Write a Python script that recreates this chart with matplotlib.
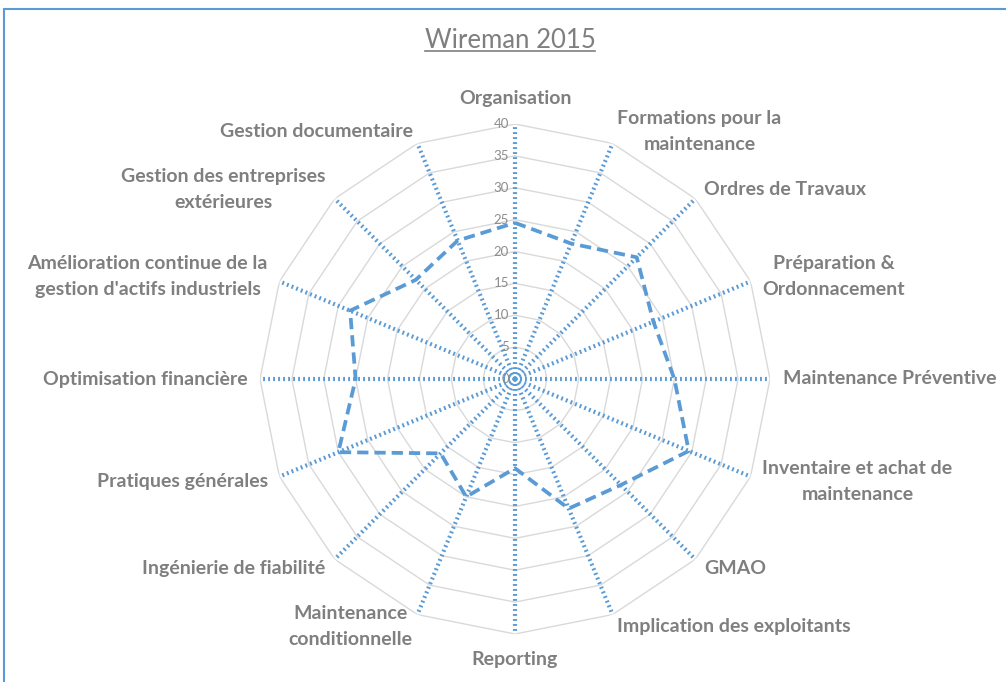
import numpy as np
import matplotlib
matplotlib.use('Agg')
import matplotlib.pyplot as plt
from matplotlib.patches import Rectangle
from matplotlib.lines import Line2D
import matplotlib.transforms as mtransforms

# Kategorien im Uhrzeigersinn ab oben
kategorien = [
    'Organisation',
    'Formations pour la\nmaintenance',
    'Ordres de Travaux',
    'Préparation &\nOrdonnacement',
    'Maintenance Préventive',
    'Inventaire et achat de\nmaintenance',
    'GMAO',
    'Implication des exploitants',
    'Reporting',
    'Maintenance\nconditionnelle',
    'Ingénierie de fiabilité',
    'Pratiques générales',
    'Optimisation financière',
    "Amélioration continue de la\ngestion d'actifs industriels",
    'Gestion des entreprises\nextérieures',
    'Gestion documentaire',
]
werte = [24.5, 23, 27, 23.5, 25, 29.5, 23.5, 22, 14, 20, 16.5, 30, 25, 28, 22, 23.5]
ringe = [5, 10, 15, 20, 25, 30, 35, 40]
tick_werte = [0, 5, 10, 15, 20, 25, 30, 35, 40]
titel = 'Wireman 2015'

blau = '#5b9bd5'
grau = '#7f7f7f'

n = len(kategorien)
winkel = np.linspace(0, 2 * np.pi, n, endpoint=False)

fig = plt.figure(figsize=(10.06, 6.82), dpi=100)
ax = fig.add_axes([260 / 1006, 48 / 682, 510 / 1006, 510 / 682], projection='polar')
ax.set_theta_zero_location('N')
ax.set_theta_direction(-1)
ax.set_ylim(0, 40)
ax.grid(False)
ax.set_xticks([])
ax.set_yticks([])
ax.spines['polar'].set_visible(False)
ax.patch.set_alpha(0)

# Polygon-Gitter
w_zu = np.append(winkel, winkel[0])
for r in ringe:
    ax.plot(w_zu, [r] * (n + 1), color='#d9d9d9', lw=1.0, zorder=1)

# gepunktete Speichen
for w in winkel:
    ax.plot([w, w], [0, 40], color=blau, lw=3.0, linestyle=(0, (0.45, 0.75)),
            solid_capstyle='butt', dash_capstyle='butt', zorder=2)

# Datenlinie
ax.plot(w_zu, werte + [werte[0]], color=blau, lw=2.7, linestyle=(0, (3.0, 1.6)),
        dash_capstyle='butt', zorder=3)

# Achsenbeschriftung
versatz = mtransforms.offset_copy(ax.transData, fig=fig, x=-6, y=0, units='dots')
for t in tick_werte:
    ax.text(0, t, str(t), transform=versatz, ha='right', va='center',
            fontsize=9.5, color='#8c8c8c', family='Lato')

# Kategorien
for w, name in zip(winkel, kategorien):
    s = np.sin(w)
    if s > 0.1:
        ha = 'left'
    elif s < -0.1:
        ha = 'right'
    else:
        ha = 'center'
    r = 42 if abs(s) > 0.1 else 44
    ax.text(w, r, name, ha=ha, va='center', multialignment='center',
            fontsize=14, fontweight='bold', color=grau, family='Lato',
            linespacing=1.6)

# Titel mit Unterstreichung
tt = fig.text(510 / 1006, 1 - 40 / 682, titel, ha='center', va='center',
              fontsize=18.5, color='#7f7f7f', family='Lato')
fig.canvas.draw()
bb = tt.get_window_extent().transformed(fig.transFigure.inverted())
fig.add_artist(Line2D([bb.x0, bb.x1], [bb.y0 + 0.002, bb.y0 + 0.002],
                      transform=fig.transFigure, color='#7f7f7f', lw=1.2))

# Rahmen
fig.add_artist(Rectangle((4 / 1006, -0.01), 1.0, 1 - 9 / 682 + 0.01,
                         transform=fig.transFigure, fill=False,
                         edgecolor=blau, lw=1.5))

fig.savefig('out.png', dpi=100)
